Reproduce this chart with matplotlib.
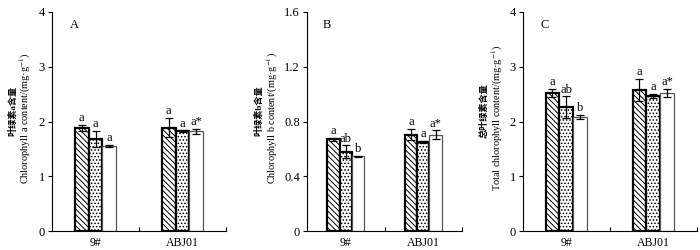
import matplotlib
matplotlib.use("Agg")
import matplotlib.pyplot as plt
import numpy as np

plt.rcParams['font.family'] = ['Liberation Serif', 'Noto Sans CJK SC']
plt.rcParams['hatch.linewidth'] = 0.7
plt.rcParams['mathtext.fontset'] = 'stix'

groups = ["9#", "ABJ01"]

# panel A: chlorophyll a
chla_t1 = [1.88, 1.89]
chla_t2 = [1.68, 1.82]
chla_t3 = [1.55, 1.82]
chla_e1 = [0.06, 0.18]
chla_e2 = [0.15, 0.02]
chla_e3 = [0.02, 0.05]
chla_lab = [["a", "a", "a"], ["a", "a", "a*"]]

# panel B: chlorophyll b
chlb_t1 = [0.67, 0.705]
chlb_t2 = [0.58, 0.65]
chlb_t3 = [0.545, 0.705]
chlb_e1 = [0.01, 0.04]
chlb_e2 = [0.045, 0.01]
chlb_e3 = [0.005, 0.03]
chlb_lab = [["a", "ab", "b"], ["a", "a", "a*"]]

# panel C: total
tot_t1 = [2.52, 2.58]
tot_t2 = [2.26, 2.47]
tot_t3 = [2.08, 2.52]
tot_e1 = [0.08, 0.2]
tot_e2 = [0.2, 0.04]
tot_e3 = [0.04, 0.08]
tot_lab = [["a", "ab", "b"], ["a", "a", "a*"]]

panels = [
    dict(pos=[0.0743, 0.076, 0.2486, 0.876], vals=[chla_t1, chla_t2, chla_t3],
         errs=[chla_e1, chla_e2, chla_e3], labs=chla_lab, ylim=4, yticks=[0, 1, 2, 3, 4],
         yticklabels=["0", "1", "2", "3", "4"], letter="A",
         cn="叶绿素a含量", en="Chlorophyll a content/(mg·g$^{-1}$)",
         cnx=-0.226, enx=-0.152, cny=0.55, eny=0.516),
    dict(pos=[0.4386, 0.076, 0.2214, 0.876], vals=[chlb_t1, chlb_t2, chlb_t3],
         errs=[chlb_e1, chlb_e2, chlb_e3], labs=chlb_lab, ylim=1.6, yticks=[0, 0.4, 0.8, 1.2, 1.6],
         yticklabels=["0", "0.4", "0.8", "1.2", "1.6"], letter="B",
         cn="叶绿素b含量", en="Chlorophyll b content/(mg·g$^{-1}$)",
         cnx=-0.308, enx=-0.222, cny=0.55, eny=0.516),
    dict(pos=[0.747, 0.076, 0.2486, 0.876], vals=[tot_t1, tot_t2, tot_t3],
         errs=[tot_e1, tot_e2, tot_e3], labs=tot_lab, ylim=4, yticks=[0, 1, 2, 3, 4],
         yticklabels=["0", "1", "2", "3", "4"], letter="C",
         cn="总叶绿素含量", en="Total chlorophyll content/(mg·g$^{-1}$)",
         cnx=-0.22, enx=-0.146, cny=0.55, eny=0.516),
]

fig = plt.figure(figsize=(7, 2.5), dpi=100)
x = np.arange(len(groups))
w = 0.16
styles = [
    dict(facecolor="white", edgecolor="black", hatch="\\\\\\\\\\\\", linewidth=1.6),
    dict(facecolor="white", edgecolor="black", hatch=".....", linewidth=1.6),
    dict(facecolor="white", edgecolor="#555555", hatch=None, linewidth=0.9),
]
for p in panels:
    ax = fig.add_axes(p["pos"])
    for i in range(3):
        xs = x + (i - 1) * w
        ax.bar(xs, p["vals"][i], width=w, zorder=2, **styles[i])
        ax.errorbar(xs, p["vals"][i], yerr=p["errs"][i], fmt="none", ecolor="black",
                    elinewidth=0.9, capsize=3, capthick=0.9, zorder=3)
        for j in range(len(groups)):
            ax.text(xs[j], p["vals"][i][j] + p["errs"][i][j] + p["ylim"] * 0.003,
                    p["labs"][j][i], ha="center", va="bottom", fontsize=9)
    ax.set_xlim(-0.5, 1.5)
    ax.set_ylim(0, p["ylim"])
    ax.set_yticks(p["yticks"])
    ax.set_yticklabels(p["yticklabels"], fontsize=9)
    ax.set_xticks(x)
    ax.set_xticklabels(groups, fontsize=8.5)
    ax.tick_params(axis="x", length=0, pad=4)
    ax.set_xticks([0.5, 1.5], minor=True)
    ax.tick_params(axis="x", which="minor", direction="in", length=3, width=0.8)
    ax.tick_params(axis="y", direction="out", length=3, width=0.8, pad=2)
    for s in ["top", "right"]:
        ax.spines[s].set_visible(False)
    for s in ["left", "bottom"]:
        ax.spines[s].set_linewidth(0.8)
    ax.text(p["cnx"], p["cny"], p["cn"], transform=ax.transAxes, rotation=90,
            ha="center", va="center", fontsize=6.6, fontweight="bold")
    ax.text(p["enx"], p["eny"], p["en"], transform=ax.transAxes, rotation=90,
            ha="center", va="center", fontsize=7.4)
    ax.text(0.1, 0.97, p["letter"], transform=ax.transAxes, fontsize=9, va="top", ha="left")

fig.savefig("out.png", dpi=100)
